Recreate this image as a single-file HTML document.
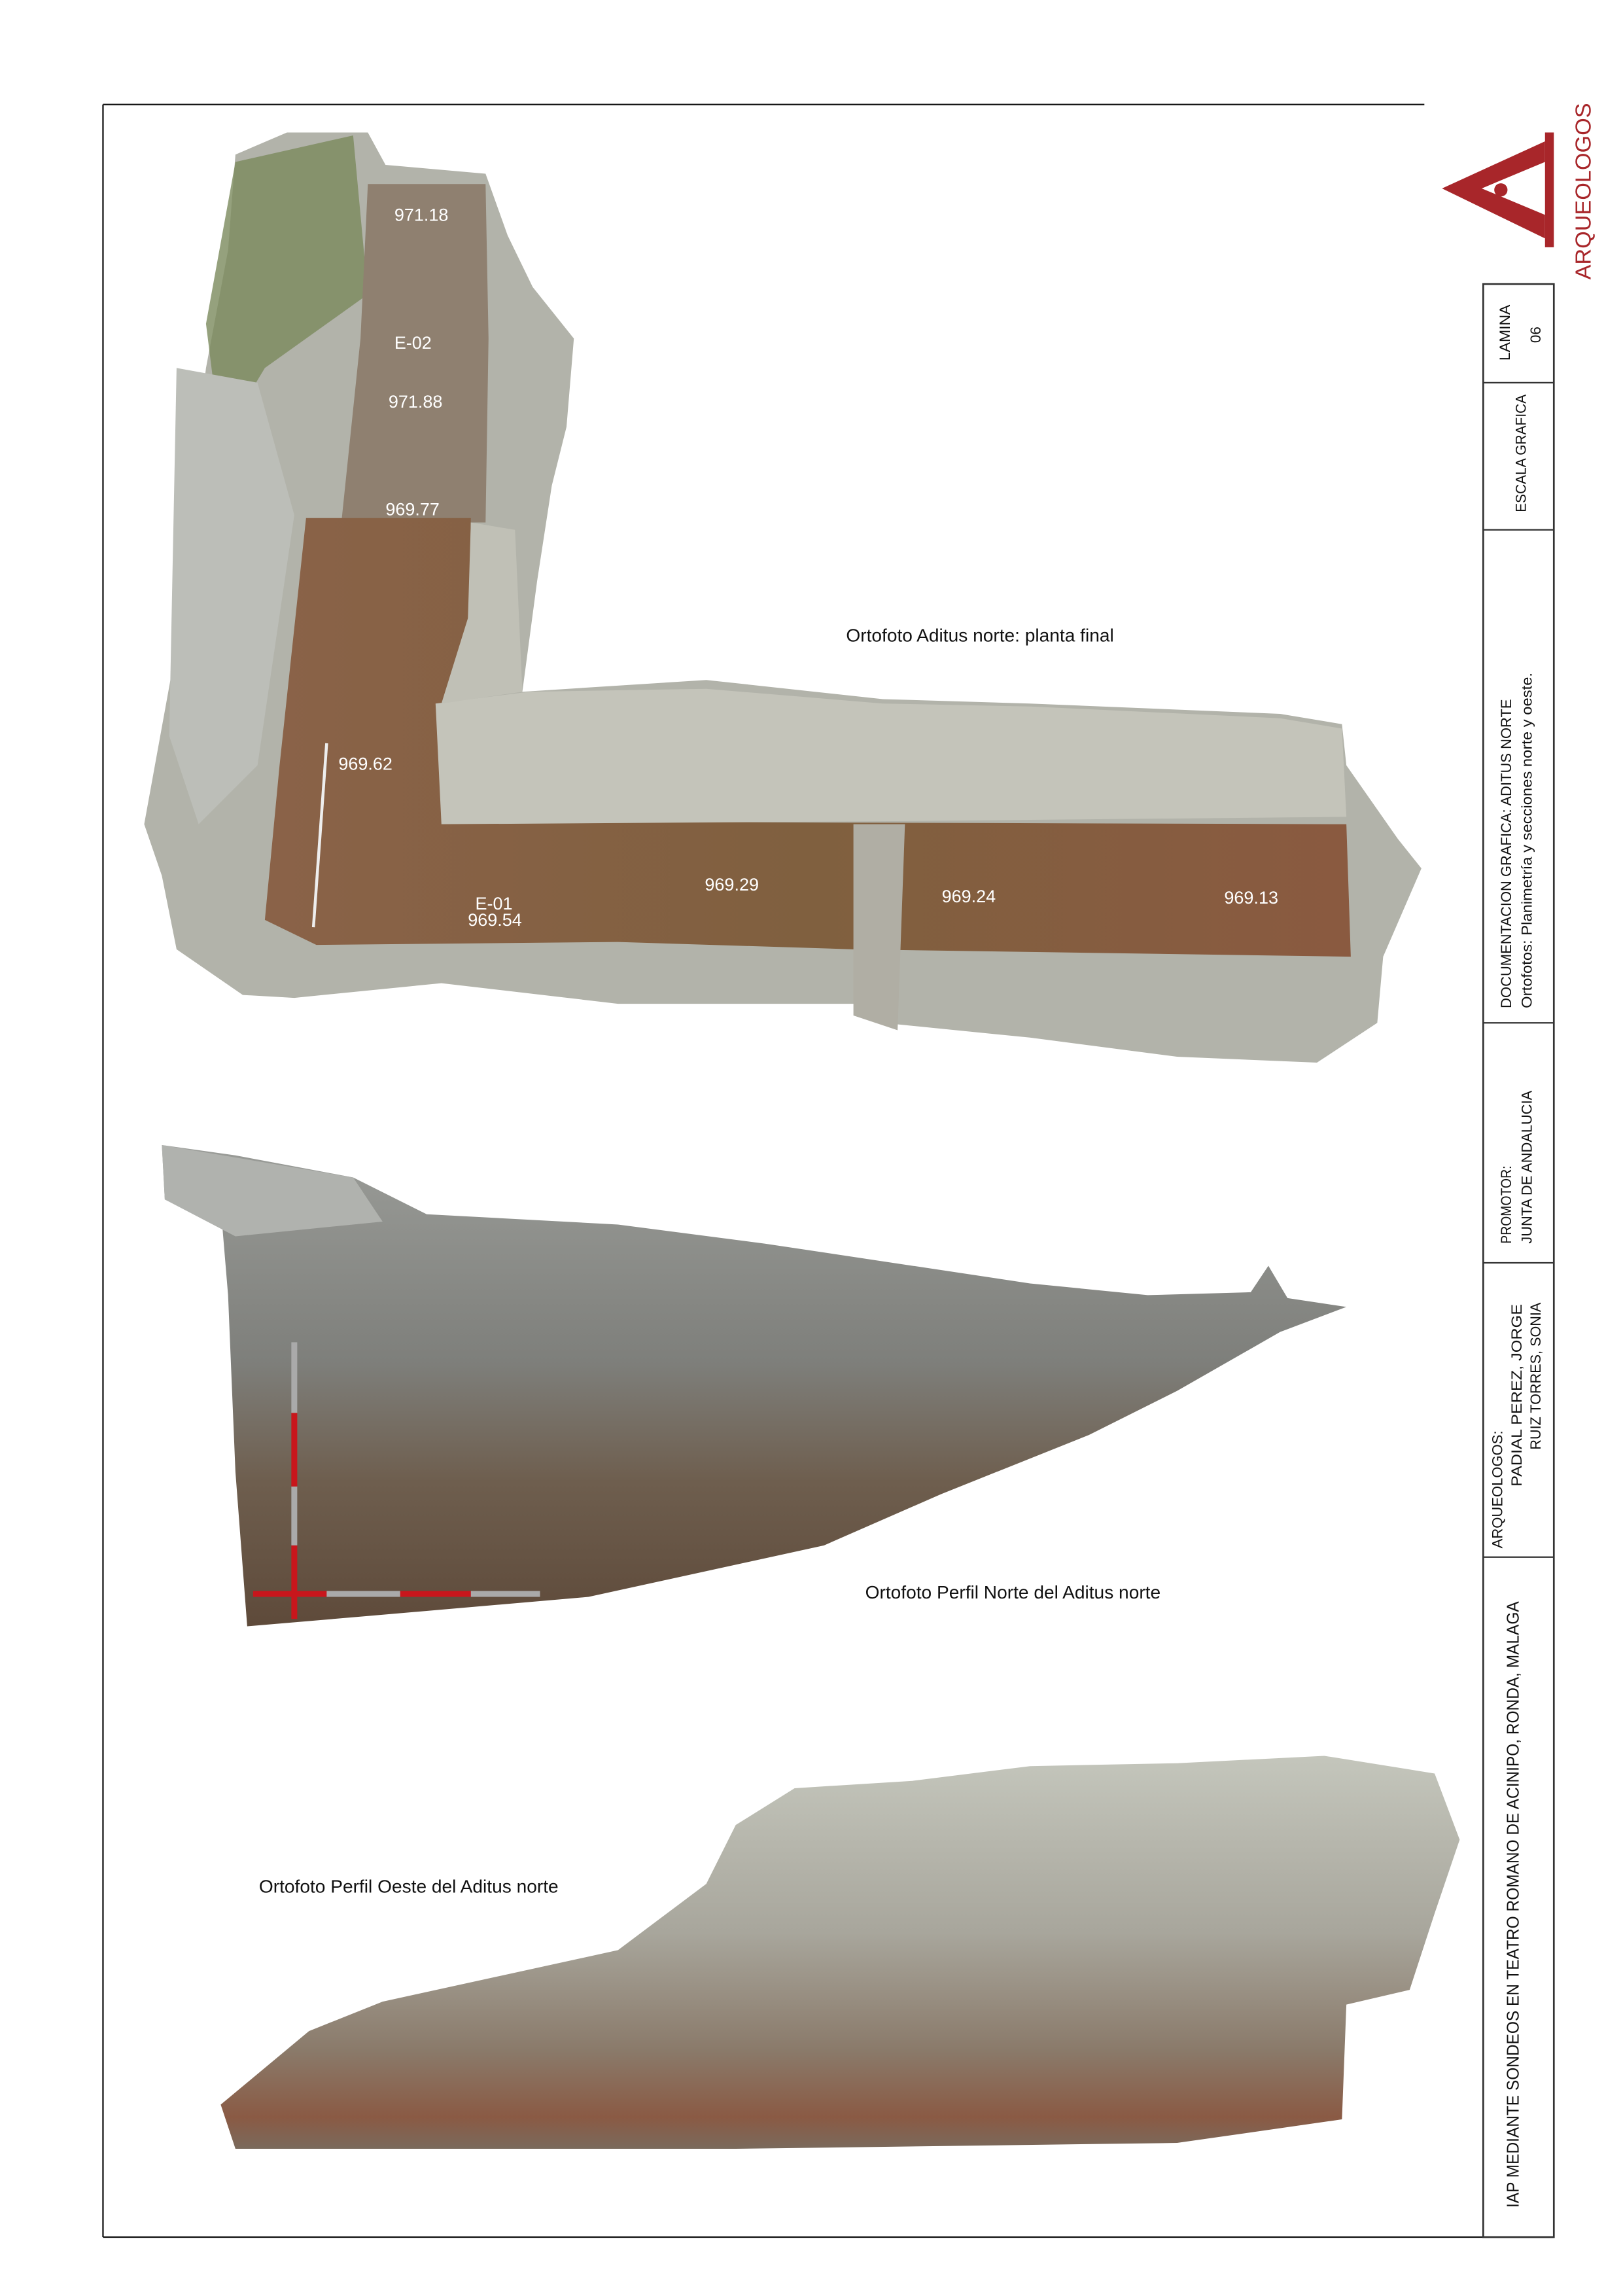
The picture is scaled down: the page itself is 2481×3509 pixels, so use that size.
<!DOCTYPE html>
<html><head><meta charset="utf-8"><style>
html,body{margin:0;padding:0;background:#fff}
svg{display:block}
.side{font-family:"Liberation Sans Narrow","Liberation Sans",sans-serif;fill:#111}
</style></head><body>
<svg width="2481" height="3509" viewBox="0 0 1103 1560" xmlns="http://www.w3.org/2000/svg">
<defs>
<linearGradient id="np" x1="0" y1="0" x2="0" y2="1">
<stop offset="0" stop-color="#9a9c98"/><stop offset="0.45" stop-color="#7e7f7b"/><stop offset="0.7" stop-color="#6e5e4e"/><stop offset="1" stop-color="#5e4a3a"/></linearGradient>
<linearGradient id="wp" x1="0" y1="0" x2="0" y2="1">
<stop offset="0" stop-color="#c4c6bc"/><stop offset="0.45" stop-color="#a8a69c"/><stop offset="0.75" stop-color="#8a7a6a"/><stop offset="0.92" stop-color="#8a5a44"/><stop offset="1" stop-color="#7a6a5c"/></linearGradient>
<linearGradient id="tr" x1="0" y1="0" x2="1" y2="0">
<stop offset="0" stop-color="#8a6248"/><stop offset="0.5" stop-color="#80603f"/><stop offset="1" stop-color="#8a5a40"/></linearGradient>
</defs>
<line x1="70" y1="71" x2="968" y2="71" stroke="#111" stroke-width="1"/>
<line x1="70" y1="71" x2="70" y2="1520" stroke="#111" stroke-width="1"/>
<line x1="70" y1="1520" x2="1056" y2="1520" stroke="#111" stroke-width="1"/>
<rect x="1008" y="193" width="48" height="1327" fill="none" stroke="#333" stroke-width="1.2"/>
<g stroke="#333" stroke-width="1"><line x1="1008" y1="260" x2="1056" y2="260"/><line x1="1008" y1="360" x2="1056" y2="360"/><line x1="1008" y1="695" x2="1056" y2="695"/><line x1="1008" y1="858" x2="1056" y2="858"/><line x1="1008" y1="1058" x2="1056" y2="1058"/></g>
<polygon points="980,128 1050,96 1050,110 1007,128 1050,146 1050,162" fill="#a8262a"/>
<rect x="1050" y="90" width="6" height="78" fill="#a8262a"/>
<circle cx="1020" cy="129" r="4.5" fill="#a8262a"/>
<text transform="translate(1081,190) rotate(-90)" font-family="Liberation Sans Narrow,Liberation Sans,sans-serif" font-size="15" textLength="120" lengthAdjust="spacingAndGlyphs" fill="#a8262a">ARQUEOLOGOS</text>
<g class="side" font-size="10">
<text transform="translate(1026,245) rotate(-90)" textLength="38" lengthAdjust="spacingAndGlyphs">LAMINA</text>
<text transform="translate(1047,233) rotate(-90)">06</text>
<text transform="translate(1037,348) rotate(-90)" textLength="80" lengthAdjust="spacingAndGlyphs">ESCALA GRAFICA</text>
<text transform="translate(1027,685) rotate(-90)" textLength="210" lengthAdjust="spacingAndGlyphs">DOCUMENTACION GRAFICA:  ADITUS NORTE</text>
<text transform="translate(1041,685) rotate(-90)" textLength="228" lengthAdjust="spacingAndGlyphs">Ortofotos: Planimetría y secciones norte y oeste.</text>
<text transform="translate(1027,845) rotate(-90)" textLength="53" lengthAdjust="spacingAndGlyphs">PROMOTOR:</text>
<text transform="translate(1041,845) rotate(-90)" textLength="104" lengthAdjust="spacingAndGlyphs">JUNTA DE ANDALUCIA</text>
<text transform="translate(1021,1052) rotate(-90)" textLength="80" lengthAdjust="spacingAndGlyphs">ARQUEOLOGOS:</text>
<text transform="translate(1034,1010) rotate(-90)" textLength="124" lengthAdjust="spacingAndGlyphs">PADIAL PEREZ, JORGE</text>
<text transform="translate(1047,985) rotate(-90)" textLength="100" lengthAdjust="spacingAndGlyphs">RUIZ TORRES, SONIA</text>
<text transform="translate(1032,1500) rotate(-90)" font-size="11.5" textLength="412" lengthAdjust="spacingAndGlyphs">IAP MEDIANTE SONDEOS EN TEATRO ROMANO DE ACINIPO, RONDA, MALAGA</text>
</g>
<polygon points="160,105 195,90 250,90 262,112 330,118 345,160 362,195 390,230 385,290 375,330 365,395 355,470 480,462 600,475 700,478 870,485 912,492 915,520 950,570 966,590 940,650 936,695 895,722 800,718 700,705 600,695 580,682 420,682 300,668 200,678 165,676 120,645 110,595 98,560 118,450 130,330 140,250 155,170" fill="#b2b3aa"/>
<polygon points="160,110 240,92 250,200 180,250 150,300 140,220" fill="#7a8a5c" opacity="0.8"/>
<polygon points="120,250 175,260 200,350 175,520 135,560 115,500" fill="#bcbeb8"/>
<polygon points="250,125 330,125 332,230 330,355 232,355 245,230" fill="#8f8070"/>
<polygon points="208,352 320,352 318,470 300,480 300,558 915,560 918,650 580,645 420,640 215,642 180,625 190,520" fill="url(#tr)"/>
<polygon points="296,478 360,470 480,468 600,478 700,480 870,488 912,495 915,555 600,558 300,560" fill="#c4c4ba"/>
<polygon points="320,355 350,360 355,470 300,478 318,420" fill="#c0c0b6"/>
<polygon points="580,560 615,560 610,700 580,690" fill="#b0aea4"/>
<line x1="222" y1="505" x2="213" y2="630" stroke="#eee" stroke-width="2"/>
<g font-family="Liberation Sans,sans-serif" font-size="12" fill="#fff">
<text x="268" y="150">971.18</text><text x="268" y="237">E-02</text><text x="264" y="277">971.88</text><text x="262" y="350">969.77</text><text x="230" y="523">969.62</text><text x="323" y="618">E-01</text><text x="318" y="629">969.54</text><text x="479" y="605">969.29</text><text x="640" y="613">969.24</text><text x="832" y="614">969.13</text>
</g>
<text x="575" y="436" font-family="Liberation Sans,sans-serif" font-size="12.5" fill="#111">Ortofoto Aditus norte: planta final</text>
<polygon points="110,778 160,785 240,800 290,825 420,832 520,845 620,860 700,872 780,880 850,878 862,860 875,882 915,888 870,905 800,945 740,975 640,1015 560,1050 400,1085 250,1098 168,1105 160,1000 155,880 150,820 112,815" fill="url(#np)"/>
<polygon points="110,778 240,800 260,830 160,840 112,815" fill="#b0b2ae"/>
<g stroke-width="4"><line x1="200" y1="912" x2="200" y2="960" stroke="#aaa"/><line x1="200" y1="960" x2="200" y2="1010" stroke="#c8161c"/><line x1="200" y1="1010" x2="200" y2="1050" stroke="#aaa"/><line x1="200" y1="1050" x2="200" y2="1100" stroke="#c8161c"/>
<line x1="172" y1="1083" x2="222" y2="1083" stroke="#c8161c"/><line x1="222" y1="1083" x2="272" y2="1083" stroke="#aaa"/><line x1="272" y1="1083" x2="320" y2="1083" stroke="#c8161c"/><line x1="320" y1="1083" x2="367" y2="1083" stroke="#aaa"/></g>
<text x="588" y="1086" font-family="Liberation Sans,sans-serif" font-size="12.5" fill="#111">Ortofoto Perfil Norte del Aditus norte</text>
<polygon points="150,1430 210,1380 260,1360 420,1325 480,1280 500,1240 540,1215 620,1210 700,1200 800,1198 900,1193 975,1205 992,1250 975,1300 958,1352 915,1362 912,1440 800,1456 500,1460 160,1460" fill="url(#wp)"/>
<text x="176" y="1286" font-family="Liberation Sans,sans-serif" font-size="12.5" fill="#111">Ortofoto Perfil Oeste del Aditus norte</text>
</svg>
</body></html>
